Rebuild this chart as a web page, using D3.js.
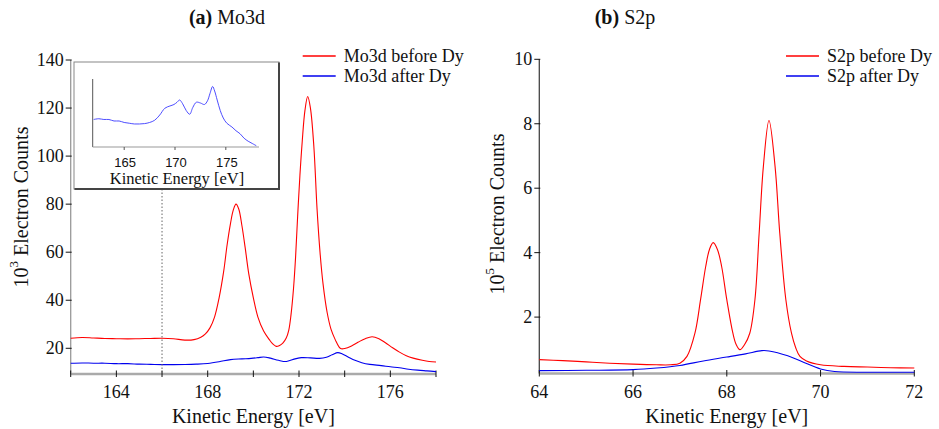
<!DOCTYPE html>
<html><head><meta charset="utf-8">
<script src="https://cdn.jsdelivr.net/npm/d3@7"></script>
<style>
body{margin:0;background:#fff;}
svg text{font-family:"Liberation Serif","Times New Roman",serif;fill:#111;}
</style></head>
<body><svg id="c" width="939" height="429"></svg>
<script>
// ---- Data ----
const moEnergyBefore = [162,162.5,163,163.5,164,164.5,165,165.5,166,166.5,167,167.4,167.7,167.9,168.1,168.3,168.5,168.7,168.85,169.0,169.12,169.24,169.36,169.5,169.64,169.8,170.0,170.2,170.45,170.7,170.85,171.0,171.15,171.3,171.44,171.55,171.65,171.76,171.85,171.94,172.04,172.14,172.26,172.38,172.5,172.65,172.79,172.92,173.05,173.23,173.4,173.6,173.75,173.85,174.0,174.3,174.6,174.9,175.2,175.5,175.8,176.1,176.4,176.7,177.0,177.4,177.7,178];
const moBefore = [24.2,24.5,24.3,24.1,24.0,23.9,24.0,24.1,24.2,24.0,23.4,23.6,24.6,26,28.5,33,41,52,63,72,77.5,80,78,71,62,51,41,33,27.2,23.6,21.8,20.8,21.2,22.3,24.3,27.5,34,45,58,75,92,106,119,124.8,120,104,78,60,47,35,28,23.3,20.6,19.8,19.9,21,22.6,24,24.8,24,22.2,20.2,18.4,16.9,15.9,15.0,14.5,14.3];
const moEnergyAfter = [162,162.5,163,163.5,164,164.5,165,165.5,166,166.5,167,167.5,168,168.5,169,169.5,169.9,170.2,170.45,170.75,171.1,171.45,171.75,172.1,172.5,172.9,173.2,173.45,173.7,173.9,174.15,174.45,174.75,175.1,175.6,176.0,176.4,176.8,177.2,177.6,178];
const moAfter = [13.8,13.9,13.8,13.8,13.6,13.6,13.4,13.3,13.2,13.2,13.25,13.4,13.7,14.4,15.3,15.6,15.8,16.1,16.4,15.9,15.0,14.5,15.4,16.1,16.0,15.8,16.3,17.3,18.2,17.6,16.4,15.0,14.0,13.3,12.8,12.3,11.9,11.3,10.9,10.6,10.3];
const sEnergyBefore = [64,64.5,65,65.5,66,66.5,66.8,67.0,67.15,67.32,67.44,67.55,67.63,67.71,67.8,67.89,68.0,68.13,68.2,68.28,68.38,68.49,68.6,68.69,68.78,68.9,69.03,69.13,69.26,69.38,69.47,69.56,69.7,70.0,70.5,71,71.5,72];
const sBefore = [0.68,0.65,0.61,0.57,0.54,0.52,0.52,0.57,0.78,1.5,2.54,3.57,4.1,4.31,4.1,3.57,2.54,1.5,1.15,0.99,1.15,1.5,2.54,4.6,6.67,8.1,6.67,4.6,2.54,1.5,1.05,0.78,0.64,0.52,0.47,0.45,0.43,0.42];
const sEnergyAfter = [64,65,66,66.5,67,67.5,68,68.4,68.75,68.9,69.3,69.6,70,70.3,71,72];
const sAfter = [0.34,0.35,0.37,0.42,0.50,0.64,0.76,0.86,0.96,0.95,0.80,0.62,0.39,0.31,0.29,0.29];
const moXTicks = [162,164,166,168,170,172,174,176,178];
const moXLabels = [164,168,172,176];
const moYTicks = [20,40,60,80,100,120,140];
const insetXTicks = [165,170,175];
const sXTicks = [64,66,68,70,72];
const sYTicks = [2,4,6,8,10];
const moLegend = ["Mo3d before Dy","Mo3d after Dy"];
const sLegend = ["S2p before Dy","S2p after Dy"];
const colors = ["#ff0000","#0000ee"];

const svg = d3.select("#c");
const zip = (xs, ys) => xs.map((x,i)=>[x, ys[i]]);

function panel(o){
  const x = d3.scaleLinear().domain(o.xd).range(o.xr);
  const y = d3.scaleLinear().domain(o.yd).range(o.yr);
  const g = svg.append("g");
  g.append("line").attr("x1",o.xr[0]).attr("x2",o.xr[0]).attr("y1",o.yr[1]).attr("y2",o.yr[0])
    .attr("stroke",o.yAxisColor).attr("stroke-width",1.3);
  g.append("line").attr("x1",o.xr[0]).attr("x2",o.xr[1]).attr("y1",o.yr[0]).attr("y2",o.yr[0])
    .attr("stroke","#aaa").attr("stroke-width",2.5);
  o.yTicks.forEach(t=>{
    g.append("line").attr("x1",o.xr[0]-5).attr("x2",o.xr[0]+1).attr("y1",y(t)).attr("y2",y(t)).attr("stroke","#111");
    g.append("text").attr("x",o.xr[0]-7).attr("y",y(t)+6).attr("text-anchor","end").attr("font-size",18).text(t);
  });
  o.xTicks.forEach(t=>{
    g.append("line").attr("x1",x(t)).attr("x2",x(t)).attr("y1",o.yr[0]-3.5).attr("y2",o.yr[0]+3).attr("stroke","#111");
  });
  o.xLabels.forEach(t=>{
    g.append("text").attr("x",x(t)).attr("y",398).attr("text-anchor","middle").attr("font-size",18).text(t);
  });
  g.append("text").attr("x",(o.xr[0]+o.xr[1])/2).attr("y",423).attr("text-anchor","middle").attr("font-size",20).text("Kinetic Energy [eV]");
  const yt = g.append("text").attr("transform",`translate(${o.ytx},${o.yty}) rotate(-90)`).attr("text-anchor","middle").attr("font-size",20);
  yt.append("tspan").text("10");
  yt.append("tspan").attr("font-size",13).attr("dy",-10).text(o.exp);
  yt.append("tspan").attr("dy",10).text(" Electron Counts");
  const tt = g.append("text").attr("x",o.tx).attr("y",24).attr("text-anchor","middle").attr("font-size",20);
  tt.append("tspan").attr("font-weight","bold").text(o.tlab);
  tt.append("tspan").text(" "+o.tname);
  const line = d3.line().x(d=>x(d[0])).y(d=>y(d[1])).curve(d3.curveCatmullRom.alpha(0.5));
  o.series.forEach((s,i)=>{
    g.append("path").datum(s).attr("d",line).attr("fill","none").attr("stroke",colors[i]).attr("stroke-width",1.1);
  });
  o.legend.forEach((l,i)=>{
    const ly = 56 + i*20;
    g.append("line").attr("x1",o.lx).attr("x2",o.lx+33).attr("y1",ly).attr("y2",ly).attr("stroke",colors[i]).attr("stroke-width",1.3);
    g.append("text").attr("x",o.lx+41).attr("y",ly+6).attr("font-size",18).text(l);
  });
  return {x,y,g};
}

const left = panel({xd:[162,178], xr:[70.7,436], yd:[9.3,140], yr:[374,60], yAxisColor:"#999",
  yTicks:moYTicks, xTicks:moXTicks, xLabels:moXLabels, ytx:28, yty:207, exp:"3", tx:227, tlab:"(a)", tname:"Mo3d",
  series:[zip(moEnergyBefore,moBefore), zip(moEnergyAfter,moAfter)], legend:moLegend, lx:302.7});

const right = panel({xd:[64,72], xr:[539.3,914.3], yd:[0.25,10], yr:[373.5,59.3], yAxisColor:"#444",
  yTicks:sYTicks, xTicks:sXTicks, xLabels:sXTicks, ytx:504, yty:214, exp:"5", tx:625, tlab:"(b)", tname:"S2p",
  series:[zip(sEnergyBefore,sBefore), zip(sEnergyAfter,sAfter)], legend:sLegend, lx:786});

left.g.append("line").attr("x1",left.x(166)).attr("x2",left.x(166)).attr("y1",189).attr("y2",373)
  .attr("stroke","#666").attr("stroke-width",1).attr("stroke-dasharray","1.5,2");

const ins = svg.append("g");
ins.append("rect").attr("x",74).attr("y",62).attr("width",205).attr("height",127).attr("fill","#fff").attr("stroke","#888").attr("stroke-width",1);
ins.append("path").attr("d","M279,62.5 L279,189 L74.5,189").attr("fill","none").attr("stroke","#444").attr("stroke-width",2);
const ix = d3.scaleLinear().domain([162,178]).range([93.7,256.3]);
const iy = d3.scaleLinear().domain([10.13,19.2]).range([147,79]);
ins.append("line").attr("x1",92.7).attr("x2",92.7).attr("y1",79).attr("y2",147).attr("stroke","#555");
ins.append("line").attr("x1",92.7).attr("x2",259).attr("y1",147).attr("y2",147).attr("stroke","#999");
insetXTicks.forEach(t=>{
  ins.append("line").attr("x1",ix(t)).attr("x2",ix(t)).attr("y1",147).attr("y2",150).attr("stroke","#555");
  ins.append("text").attr("x",ix(t)+1).attr("y",166.5).attr("text-anchor","middle").attr("font-size",13)
    .style("font-family","'Liberation Sans',Arial,sans-serif").text(t);
});
ins.append("text").attr("x",177).attr("y",184).attr("text-anchor","middle").attr("font-size",16.5).text("Kinetic Energy [eV]");
ins.append("path").datum(zip(moEnergyAfter,moAfter))
  .attr("d",d3.line().x(d=>ix(d[0])).y(d=>iy(d[1])).curve(d3.curveCatmullRom.alpha(0.5)))
  .attr("fill","none").attr("stroke","#3a3aff").attr("stroke-width",0.9);
</script></body></html>
